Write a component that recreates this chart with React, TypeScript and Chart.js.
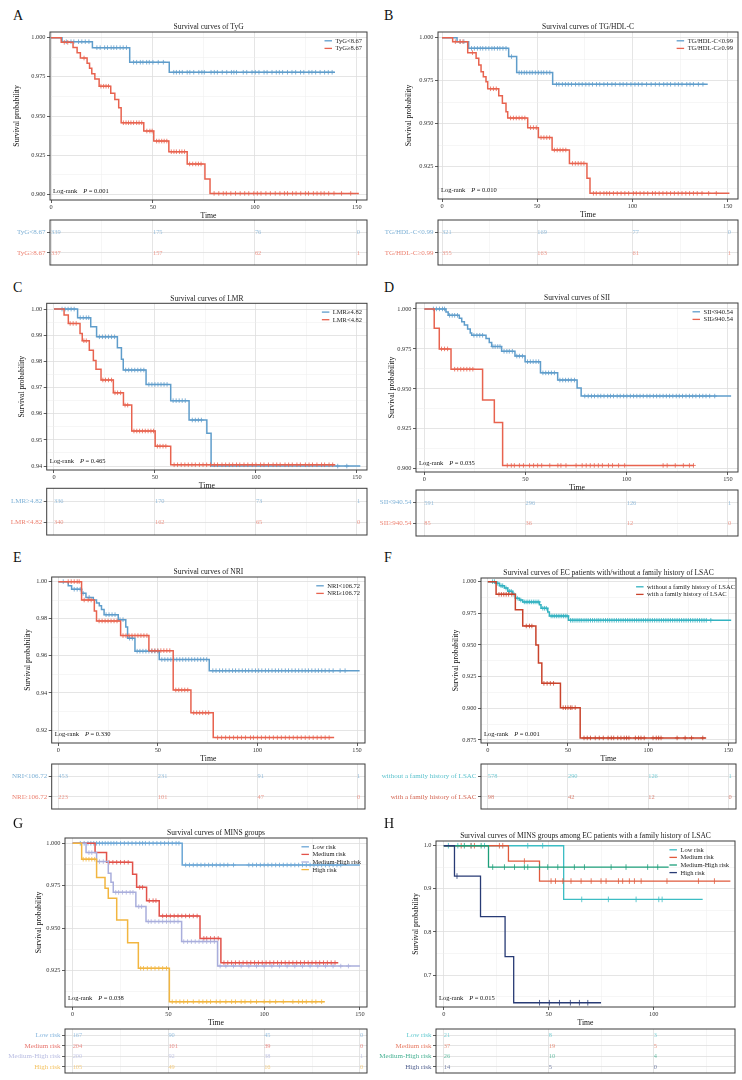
import React, { useEffect, useRef } from "react";
import { Chart, registerables } from "chart.js";
Chart.register(...registerables);

const SERIF = '"Liberation Serif", "Times New Roman", Times, serif';

// ---------------- DATA ----------------
// A: TyG
const tygLowTime = [0, 5.4, 20.3, 38.6, 58.0];
const tygLowSurv = [1, 0.9974, 0.9936, 0.9843, 0.9779];
const tygLowEnd = 139.3;
const tygLowCensor = [7.5, 9.8, 11.2, 13.5, 15.1, 16.8, 18.6, 22.5, 24.1, 26.3, 27.7, 29.5, 30.8, 32.2, 33.9, 35.4, 37.0, 40.5, 42.0, 43.8, 45.1, 46.9, 48.2, 50.0, 52.6, 55.1, 60.2, 61.5, 63.0, 64.4, 66.8, 68.1, 70.0, 72.5, 74.0, 75.2, 78.5, 80.1, 81.6, 84.0, 86.2, 88.5, 89.7, 91.0, 94.3, 96.0, 98.6, 100.2, 102.0, 104.5, 106.0, 108.4, 110.5, 112.0, 113.6, 116.0, 118.2, 120.0, 122.4, 124.0, 126.5, 128.0, 129.8, 132.0, 134.2, 136.0, 137.9];
const tygLowRisk = [339, 175, 76, 0];
const tygHighTime = [0, 5.0, 10.8, 12.8, 14.4, 17.7, 18.9, 20.0, 21.5, 23.6, 29.3, 31.3, 33.2, 34.4, 45.5, 50.4, 57.8, 66.8, 75.5, 78.0];
const tygHighSurv = [1, 0.997, 0.9937, 0.9903, 0.987, 0.9836, 0.9804, 0.977, 0.9736, 0.969, 0.9645, 0.9606, 0.9553, 0.9457, 0.9404, 0.934, 0.9272, 0.9194, 0.9098, 0.9006];
const tygHighEnd = 151;
const tygHighCensor = [6.5, 8.2, 16.2, 24.5, 25.8, 27.0, 28.2, 35.5, 36.8, 38.0, 39.2, 40.5, 42.0, 43.2, 44.5, 47.0, 48.5, 49.6, 51.8, 53.0, 54.3, 55.5, 56.8, 59.0, 60.3, 61.5, 63.0, 64.2, 65.5, 68.0, 69.5, 71.0, 72.3, 73.6, 80.0, 82.3, 84.5, 86.0, 88.2, 90.5, 92.8, 95.0, 97.0, 99.5, 101.2, 103.0, 105.4, 107.6, 110.0, 112.3, 114.5, 116.0, 118.5, 120.2, 122.5, 124.8, 126.3, 128.7, 130.5, 132.4, 134.0, 136.2, 138.8, 142.5, 147.0];
const tygHighRisk = [337, 157, 62, 1];

// B: TG/HDL-C
const tgLowTime = [0, 7.9, 14.0, 35.0, 39.2, 58.1];
const tgLowSurv = [1, 0.9977, 0.9938, 0.989, 0.9797, 0.9729];
const tgLowEnd = 139.5;
const tgLowCensor = [9.5, 11.5, 15.5, 17.0, 18.6, 20.1, 21.4, 23.0, 24.6, 26.2, 27.5, 29.1, 30.4, 32.0, 33.6, 36.5, 40.5, 41.8, 43.2, 44.5, 46.1, 47.4, 49.0, 50.6, 52.1, 53.4, 55.0, 56.6, 60.1, 61.4, 63.2, 64.8, 66.3, 68.0, 70.1, 71.9, 73.6, 75.5, 77.2, 79.0, 81.1, 82.8, 85.0, 86.9, 89.2, 91.0, 93.4, 95.1, 97.0, 99.2, 101.3, 103.1, 105.0, 107.4, 109.8, 112.0, 114.1, 116.4, 118.2, 120.0, 122.3, 124.1, 126.0, 128.5, 130.2, 132.0, 134.6, 137.0];
const tgLowRisk = [321, 169, 77, 0];
const tgHighTime = [0, 5.6, 13.5, 17.9, 19.3, 20.5, 21.7, 23.1, 24.0, 29.8, 31.7, 33.6, 34.5, 45.0, 50.6, 57.8, 66.9, 76.1, 77.7];
const tgHighSurv = [1, 0.9977, 0.9913, 0.988, 0.9841, 0.9802, 0.9773, 0.9744, 0.9703, 0.9663, 0.9618, 0.957, 0.9533, 0.9477, 0.9419, 0.9347, 0.9269, 0.9182, 0.9095];
const tgHighEnd = 150.9;
const tgHighCensor = [7.0, 9.5, 11.0, 16.0, 25.5, 27.0, 28.5, 36.0, 37.5, 39.0, 40.5, 42.0, 43.5, 46.5, 48.0, 49.5, 52.0, 53.5, 55.0, 56.5, 59.0, 60.5, 62.0, 63.5, 65.0, 68.5, 70.0, 71.5, 73.0, 74.5, 79.5, 81.0, 83.0, 85.0, 86.5, 88.0, 90.0, 92.0, 94.0, 96.0, 98.0, 100.5, 102.0, 104.0, 106.0, 108.0, 110.5, 112.0, 114.0, 116.0, 118.0, 120.0, 122.0, 124.0, 126.0, 128.0, 130.0, 132.0, 134.0, 136.5, 140.0, 144.0];
const tgHighRisk = [355, 163, 61, 1];

// C: LMR
const lmrHighTime = [0, 11.7, 18.2, 21.1, 31.4, 33.4, 34.3, 45.6, 57.8, 66.9, 75.7, 77.8];
const lmrHighSurv = [1, 0.9967, 0.9932, 0.9894, 0.9852, 0.9808, 0.9767, 0.9712, 0.965, 0.9576, 0.9525, 0.940];
const lmrHighEnd = 151.7;
const lmrHighCensor = [4.0, 5.5, 7.0, 8.5, 10.0, 13.0, 14.5, 16.0, 17.2, 22.5, 24.0, 25.5, 27.0, 28.5, 30.0, 35.5, 37.0, 38.5, 40.0, 41.5, 43.0, 44.5, 47.0, 48.5, 50.0, 51.5, 53.0, 54.5, 56.0, 59.0, 60.5, 62.0, 63.5, 65.0, 68.5, 70.0, 71.5, 73.0, 140.5, 145.0];
const lmrHighRisk = [336, 170, 73, 1];
const lmrLowTime = [0, 5.0, 7.1, 12.9, 14.0, 17.5, 19.5, 20.8, 23.3, 29.4, 34.4, 38.5, 50.1, 57.8];
const lmrLowSurv = [1, 0.9977, 0.9945, 0.9907, 0.9879, 0.9843, 0.9803, 0.977, 0.9729, 0.968, 0.9633, 0.9534, 0.9476, 0.9405];
const lmrLowEnd = 139.3;
const lmrLowCensor = [8.0, 9.5, 11.0, 14.8, 16.0, 24.2, 25.5, 27.0, 28.5, 30.2, 31.5, 33.0, 35.2, 36.5, 39.6, 41.0, 42.4, 43.8, 45.2, 46.6, 48.0, 49.3, 51.2, 52.5, 54.0, 55.4, 59.5, 61.2, 63.0, 64.8, 66.5, 68.3, 70.0, 72.0, 73.8, 75.6, 77.5, 79.4, 81.0, 83.2, 85.0, 86.8, 88.5, 90.4, 92.0, 94.1, 96.0, 98.2, 100.0, 102.3, 104.0, 106.2, 108.5, 110.3, 112.0, 114.4, 116.2, 118.0, 120.3, 122.0, 124.5, 126.3, 128.0, 130.2, 132.5, 134.0, 136.2, 138.0];
const lmrLowRisk = [340, 162, 65, 0];

// D: SII
const siiLowTime = [0, 10.7, 11.8, 17.3, 18.5, 19.8, 21.4, 22.7, 23.4, 30.5, 32.1, 33.3, 38.2, 44.8, 49.8, 57.4, 65.9, 75.5, 77.5];
const siiLowSurv = [1, 0.998, 0.996, 0.9942, 0.992, 0.99, 0.9875, 0.985, 0.9835, 0.9815, 0.979, 0.9765, 0.9735, 0.9705, 0.967, 0.96, 0.9555, 0.9505, 0.9455];
const siiLowEnd = 151.6;
const siiLowCensor = [4.5, 6.0, 7.5, 9.0, 10.0, 12.5, 13.8, 15.0, 16.4, 24.5, 26.0, 27.4, 28.8, 33.9, 35.0, 36.3, 37.4, 39.4, 40.8, 42.0, 43.5, 45.7, 47.0, 48.5, 51.0, 52.4, 53.8, 55.2, 56.5, 58.6, 60.0, 61.4, 62.8, 64.3, 67.0, 68.4, 69.8, 71.2, 72.6, 74.2, 79.3, 81.0, 82.6, 84.1, 85.8, 87.2, 88.8, 90.6, 92.0, 93.5, 95.3, 96.8, 98.5, 100.1, 101.8, 103.4, 105.0, 106.6, 108.2, 110.0, 111.5, 113.2, 114.8, 116.4, 118.0, 119.6, 121.2, 122.8, 124.5, 126.0, 127.6, 129.3, 131.0, 132.6, 134.2, 136.0, 137.6, 139.2, 141.0, 143.5];
const siiLowRisk = [591, 296, 126, 1];
const siiHighTime = [0, 4.9, 7.4, 13.2, 28.8, 34.6, 38.7];
const siiHighSurv = [1, 0.9879, 0.975, 0.9623, 0.9431, 0.929, 0.9021];
const siiHighEnd = 133.2;
const siiHighCensor = [8.5, 10.0, 11.5, 15.0, 16.5, 18.0, 19.5, 21.0, 22.5, 24.0, 41.0, 43.0, 44.5, 47.0, 49.0, 52.0, 54.0, 56.0, 58.0, 62.0, 66.0, 67.5, 70.0, 75.0, 78.0, 80.0, 82.0, 84.0, 86.0, 88.0, 91.0, 93.0, 96.0, 99.0, 118.0, 120.0, 124.0, 128.0, 131.0, 133.0];
const siiHighRisk = [85, 36, 12, 0];

// E: NRI
const nriLowTime = [0, 5.0, 6.7, 11.7, 13.9, 17.6, 19.2, 20.6, 21.7, 23.0, 30.1, 33.9, 34.8, 38.5, 50.7, 75.8];
const nriLowSurv = [1, 0.9978, 0.9959, 0.9937, 0.9915, 0.9901, 0.9885, 0.987, 0.985, 0.9822, 0.9795, 0.9755, 0.9695, 0.9625, 0.958, 0.952];
const nriLowEnd = 151.3;
const nriLowCensor = [2.5, 8.0, 9.5, 11.0, 12.5, 15.5, 24.0, 25.5, 27.0, 28.5, 31.0, 32.5, 35.8, 37.2, 39.6, 41.0, 42.5, 44.0, 45.5, 47.0, 48.5, 50.0, 52.0, 53.5, 55.0, 56.5, 58.0, 59.5, 61.0, 62.5, 64.0, 65.5, 67.0, 68.5, 70.0, 71.5, 73.0, 74.5, 77.6, 79.2, 81.0, 82.5, 84.1, 85.8, 87.5, 89.0, 90.7, 92.4, 94.0, 95.6, 97.3, 99.0, 100.6, 102.2, 104.0, 105.6, 107.3, 109.0, 110.6, 112.2, 114.0, 115.6, 117.3, 119.0, 120.7, 122.4, 124.0, 125.6, 127.3, 129.0, 130.6, 132.3, 134.0, 136.0, 138.0, 141.5, 144.0];
const nriLowRisk = [453, 231, 91, 1];
const nriHighTime = [0, 11.7, 18.1, 19.2, 31.3, 45.5, 57.7, 66.6, 77.8];
const nriHighSurv = [1, 0.9901, 0.9842, 0.9788, 0.9709, 0.9628, 0.9416, 0.9293, 0.9159];
const nriHighEnd = 138.5;
const nriHighCensor = [5.0, 6.5, 8.0, 9.5, 10.5, 13.0, 15.0, 16.5, 20.5, 22.0, 23.5, 25.0, 26.5, 28.0, 29.5, 32.5, 34.0, 35.5, 37.0, 38.5, 40.0, 41.5, 43.0, 44.5, 47.0, 48.5, 50.0, 51.5, 53.0, 54.5, 56.0, 59.0, 60.5, 62.0, 63.5, 65.0, 68.0, 69.5, 71.0, 72.5, 74.0, 75.5, 80.0, 82.0, 84.0, 86.0, 88.0, 90.0, 92.0, 94.0, 96.5, 98.0, 100.0, 102.0, 104.0, 106.0, 108.0, 110.0, 112.0, 114.0, 116.0, 118.0, 120.0, 122.0, 124.0, 126.0, 128.0, 130.0, 132.0, 134.0, 136.0];
const nriHighRisk = [223, 101, 47, 0];

// F: family history of LSAC
const famNoTime = [0, 5.2, 7.3, 10.4, 12.5, 15.6, 17.2, 19.7, 21.8, 32.2, 33.2, 37.4, 38.4, 50.3];
const famNoSurv = [1, 0.9987, 0.9968, 0.995, 0.9924, 0.990, 0.987, 0.9855, 0.984, 0.9818, 0.979, 0.976, 0.9729, 0.9695];
const famNoEnd = 151.7;
const famNoCensor = [3.0, 4.2, 6.2, 8.3, 9.3, 11.4, 13.5, 14.6, 16.3, 18.4, 20.6, 22.8, 23.9, 25.0, 26.1, 27.2, 28.4, 29.5, 30.7, 31.8, 34.3, 35.4, 36.5, 39.5, 40.6, 41.7, 42.8, 43.9, 45.0, 46.1, 47.2, 48.3, 49.4, 51.6, 52.7, 53.8, 55.0, 56.2, 57.4, 58.6, 60.0, 61.3, 62.6, 64.0, 65.3, 66.6, 68.0, 69.2, 70.5, 72.0, 73.4, 74.7, 76.0, 77.4, 78.8, 80.2, 81.6, 83.0, 84.4, 85.8, 87.2, 88.6, 90.0, 91.4, 92.8, 94.2, 95.6, 97.0, 98.4, 99.8, 101.2, 102.6, 104.0, 105.4, 106.8, 108.2, 109.6, 111.0, 112.4, 113.8, 115.2, 116.6, 118.0, 119.4, 120.8, 122.2, 123.6, 125.0, 126.4, 127.8, 129.2, 130.6, 132.0, 133.4, 134.8, 136.2, 139.0];
const famNoRisk = [578, 290, 126, 1];
const famYesTime = [0, 5.2, 17.2, 21.8, 30.0, 31.6, 33.7, 45.3, 57.6];
const famYesSurv = [1, 0.99, 0.9779, 0.965, 0.950, 0.9357, 0.9197, 0.9005, 0.8766];
const famYesEnd = 136.1;
const famYesCensor = [7.0, 8.5, 10.0, 11.5, 13.0, 15.0, 24.0, 26.0, 27.5, 35.0, 37.0, 39.0, 41.0, 47.0, 48.5, 50.0, 51.5, 52.5, 54.5, 60.0, 62.0, 64.0, 67.0, 69.5, 72.0, 75.0, 77.0, 78.5, 81.0, 83.0, 85.0, 86.5, 88.0, 92.0, 94.0, 95.5, 97.5, 103.0, 105.0, 106.5, 108.0, 118.0, 123.0, 127.0, 134.0];
const famYesRisk = [98, 42, 12, 0];

// G: MINS groups
const gLowTime = [0, 57.2];
const gLowSurv = [1, 0.9872];
const gLowEnd = 150;
const gLowCensor = [4.0, 6.0, 8.0, 9.5, 11.0, 12.5, 14.0, 15.5, 17.0, 18.5, 20.0, 21.5, 23.0, 25.0, 27.0, 29.0, 31.0, 33.0, 35.0, 36.5, 38.0, 40.0, 42.0, 44.0, 46.0, 48.0, 50.0, 52.0, 54.0, 55.5, 59.0, 61.0, 63.0, 65.0, 67.0, 69.0, 71.0, 73.0, 75.0, 77.0, 79.0, 81.0, 84.0, 92.0, 94.0, 96.0, 98.0, 100.0, 102.0, 104.0, 106.0, 108.0, 110.0, 112.0, 114.0, 116.0, 118.0, 120.0, 122.0, 124.0, 126.0, 128.0, 130.0, 132.0, 134.0, 136.0, 138.0, 140.0];
const gLowRisk = [167, 90, 45, 0];
const gMedTime = [0, 11.7, 17.7, 31.3, 33.4, 38.6, 45.2, 66.5, 77.4];
const gMedSurv = [1, 0.9945, 0.9888, 0.9817, 0.9741, 0.9662, 0.9572, 0.944, 0.9297];
const gMedEnd = 138.7;
const gMedCensor = [19.0, 21.0, 23.0, 25.0, 27.0, 29.0, 35.0, 36.5, 40.0, 42.0, 43.5, 47.0, 49.0, 51.0, 53.0, 55.0, 57.0, 59.0, 61.0, 63.0, 65.0, 68.5, 70.0, 72.0, 74.0, 76.0, 79.0, 81.0, 83.0, 85.0, 87.0, 89.0, 91.0, 93.0, 95.0, 97.0, 99.0, 101.0, 103.0, 105.0, 107.0, 109.0, 111.0, 113.0, 115.0, 117.0, 119.0, 121.0, 123.0, 125.0, 127.0, 129.0, 131.0, 133.0, 135.0, 137.0];
const gMedRisk = [204, 101, 39, 0];
const gMhTime = [0, 7.0, 12.5, 18.6, 20.0, 21.2, 33.0, 38.3, 56.9, 75.7];
const gMhSurv = [1, 0.9945, 0.9892, 0.9823, 0.977, 0.9711, 0.9627, 0.9539, 0.9421, 0.9277];
const gMhEnd = 150;
const gMhCensor = [8.5, 10.0, 14.0, 16.0, 22.5, 24.0, 26.0, 28.0, 30.0, 31.5, 34.5, 36.0, 39.5, 41.0, 43.0, 45.0, 47.0, 49.0, 51.0, 53.0, 55.0, 58.0, 60.0, 62.0, 64.0, 66.0, 68.0, 70.0, 72.0, 74.0, 77.0, 80.0, 84.0, 88.0, 92.0, 96.0, 100.0, 104.0, 108.0, 112.0, 116.0, 120.0, 124.0, 128.0, 132.0, 136.0, 140.0, 144.0];
const gMhRisk = [200, 92, 38, 1];
const gHighTime = [0, 4.7, 12.5, 16.9, 18.6, 23.0, 28.7, 34.3, 50.5];
const gHighSurv = [1, 0.9906, 0.9798, 0.9735, 0.9676, 0.9548, 0.9415, 0.9264, 0.9067];
const gHighEnd = 131.7;
const gHighCensor = [5.5, 7.0, 8.5, 10.0, 11.5, 35.5, 37.0, 39.0, 41.0, 43.0, 45.0, 47.0, 49.0, 52.0, 54.0, 56.0, 58.0, 60.0, 63.0, 66.0, 68.0, 70.0, 72.0, 75.0, 77.0, 80.0, 83.0, 85.0, 88.0, 90.0, 93.0, 96.0, 100.0, 103.0, 106.0, 110.0, 115.0, 118.0, 120.0, 122.0, 125.0, 127.0, 130.0];
const gHighRisk = [105, 49, 16, 0];

// H: MINS groups among family history
const hLowTime = [0, 57.1];
const hLowSurv = [1, 0.8755];
const hLowEnd = 123.3;
const hLowCensor = [2.2, 6.7, 13.0, 19.4, 40.0, 47.1, 65.7, 78.4, 91.6, 102.4, 104.0];
const hLowRisk = [21, 8, 3];
const hMedTime = [0, 30.8, 45.6];
const hMedSurv = [1, 0.9644, 0.918];
const hMedEnd = 136.5;
const hMedCensor = [8.3, 13.0, 14.6, 26.5, 28.1, 38.4, 51.1, 53.2, 56.7, 60.6, 65.4, 70.2, 74.9, 77.3, 83.2, 85.2, 88.4, 90.8, 94.0, 106.3, 121.3, 128.9];
const hMedRisk = [37, 19, 5];
const hMhTime = [0, 21.3];
const hMhSurv = [1, 0.9505];
const hMhEnd = 107.1;
const hMhCensor = [9.8, 17.8, 23.3, 28.9, 33.7, 38.4, 40.0, 45.6, 49.5, 54.3, 62.2, 67.0, 79.7, 86.8, 97.1, 101.9];
const hMhRisk = [26, 10, 4];
const hHighTime = [0, 5.1, 17.5, 29.2, 33.3];
const hHighSurv = [1, 0.9296, 0.8353, 0.7425, 0.6357];
const hHighEnd = 74.9;
const hHighCensor = [6.3, 45.6, 50.3, 55.1, 60.3, 64.6, 68.6];
const hHighRisk = [14, 5, 0];

// Axis ticks
const xTicks150 = [0, 25, 50, 75, 100, 125, 150];
const xMajor150 = [0, 50, 100, 150];
const xTicksH = [0, 25, 50, 75, 100, 125];
const xMajorH = [0, 50, 100];
const riskTimes4 = [0, 50, 100, 150];
const riskTimes3 = [0, 50, 100];

// colors
const BLUE = "#5f9dcb";
const RED = "#e8634f";

type Series = { name: string; color: string; time: number[]; surv: number[]; end: number; censor: number[]; risk: number[] };
type Panel = {
  letter: string; px: number; capTop: number; title: string;
  plot: { l: number; t: number; r: number; b: number };
  table: { t: number; b: number };
  xMin: number; xMax: number; xTicks: number[]; xMajor: number[];
  yMin: number; yMax: number; yTicks: number[]; yMajor: number[]; yDigits: number;
  yTitleX: number; pval: string; riskTimes: number[]; legendRight: number;
  censorStyle: string; lineWidth: number; series: Series[];
};

const panels: Panel[] = [
  {
    letter: "A", px: 0, capTop: 11.5, title: "Survival curves of TyG",
    plot: { l: 50, t: 32, r: 367, b: 200 }, table: { t: 220, b: 265 },
    xMin: -0.5, xMax: 155, xTicks: xTicks150, xMajor: xMajor150,
    yMin: 0.8964, yMax: 1.0036, yTicks: [0.9, 0.9125, 0.925, 0.9375, 0.95, 0.9625, 0.975, 0.9875, 1.0], yMajor: [0.9, 0.925, 0.95, 0.975, 1.0], yDigits: 3,
    yTitleX: 17, pval: "0.001", riskTimes: riskTimes4, legendRight: 5, censorStyle: "cross", lineWidth: 1.5,
    series: [
      { name: "TyG<8.67", color: BLUE, time: tygLowTime, surv: tygLowSurv, end: tygLowEnd, censor: tygLowCensor, risk: tygLowRisk },
      { name: "TyG≥8.67", color: RED, time: tygHighTime, surv: tygHighSurv, end: tygHighEnd, censor: tygHighCensor, risk: tygHighRisk },
    ],
  },
  {
    letter: "B", px: 371, capTop: 11.5, title: "Survival curves of TG/HDL-C",
    plot: { l: 438, t: 32, r: 738, b: 199 }, table: { t: 220, b: 265 },
    xMin: -2.1, xMax: 155.4, xTicks: xTicks150, xMajor: xMajor150,
    yMin: 0.9062, yMax: 1.0033, yTicks: [0.9125, 0.925, 0.9375, 0.95, 0.9625, 0.975, 0.9875, 1.0], yMajor: [0.925, 0.95, 0.975, 1.0], yDigits: 3,
    yTitleX: 409, pval: "0.010", riskTimes: riskTimes4, legendRight: 5, censorStyle: "cross", lineWidth: 1.5,
    series: [
      { name: "TG/HDL-C<0.99", color: BLUE, time: tgLowTime, surv: tgLowSurv, end: tgLowEnd, censor: tgLowCensor, risk: tgLowRisk },
      { name: "TG/HDL-C≥0.99", color: RED, time: tgHighTime, surv: tgHighSurv, end: tgHighEnd, censor: tgHighCensor, risk: tgHighRisk },
    ],
  },
  {
    letter: "C", px: 0, capTop: 283.3, title: "Survival curves of LMR",
    plot: { l: 46.7, t: 303.3, r: 367, b: 470 }, table: { t: 488.3, b: 535 },
    xMin: -3.6, xMax: 155, xTicks: xTicks150, xMajor: xMajor150,
    yMin: 0.9385, yMax: 1.0022, yTicks: [0.94, 0.945, 0.95, 0.955, 0.96, 0.965, 0.97, 0.975, 0.98, 0.985, 0.99, 0.995, 1.0], yMajor: [0.94, 0.95, 0.96, 0.97, 0.98, 0.99, 1.0], yDigits: 2,
    yTitleX: 21.7, pval: "0.465", riskTimes: riskTimes4, legendRight: 5, censorStyle: "cross", lineWidth: 1.5,
    series: [
      { name: "LMR≥4.82", color: BLUE, time: lmrHighTime, surv: lmrHighSurv, end: lmrHighEnd, censor: lmrHighCensor, risk: lmrHighRisk },
      { name: "LMR<4.82", color: RED, time: lmrLowTime, surv: lmrLowSurv, end: lmrLowEnd, censor: lmrLowCensor, risk: lmrLowRisk },
    ],
  },
  {
    letter: "D", px: 371, capTop: 283.3, title: "Survival curves of SII",
    plot: { l: 416, t: 303, r: 738, b: 472 }, table: { t: 490, b: 536 },
    xMin: -4.1, xMax: 155, xTicks: xTicks150, xMajor: xMajor150,
    yMin: 0.898, yMax: 1.0037, yTicks: [0.9, 0.9125, 0.925, 0.9375, 0.95, 0.9625, 0.975, 0.9875, 1.0], yMajor: [0.9, 0.925, 0.95, 0.975, 1.0], yDigits: 3,
    yTitleX: 391.7, pval: "0.035", riskTimes: riskTimes4, legendRight: 5, censorStyle: "cross", lineWidth: 1.5,
    series: [
      { name: "SII<940.54", color: BLUE, time: siiLowTime, surv: siiLowSurv, end: siiLowEnd, censor: siiLowCensor, risk: siiLowRisk },
      { name: "SII≥940.54", color: RED, time: siiHighTime, surv: siiHighSurv, end: siiHighEnd, censor: siiHighCensor, risk: siiHighRisk },
    ],
  },
  {
    letter: "E", px: 0, capTop: 553.3, title: "Survival curves of NRI",
    plot: { l: 51.7, t: 577, r: 365, b: 743 }, table: { t: 764, b: 809 },
    xMin: -3.3, xMax: 154, xTicks: xTicks150, xMajor: xMajor150,
    yMin: 0.913, yMax: 1.0025, yTicks: [0.92, 0.93, 0.94, 0.95, 0.96, 0.97, 0.98, 0.99, 1.0], yMajor: [0.92, 0.94, 0.96, 0.98, 1.0], yDigits: 2,
    yTitleX: 28.3, pval: "0.330", riskTimes: riskTimes4, legendRight: 5, censorStyle: "cross", lineWidth: 1.5,
    series: [
      { name: "NRI<106.72", color: BLUE, time: nriLowTime, surv: nriLowSurv, end: nriLowEnd, censor: nriLowCensor, risk: nriLowRisk },
      { name: "NRI≥106.72", color: RED, time: nriHighTime, surv: nriHighSurv, end: nriHighEnd, censor: nriHighCensor, risk: nriHighRisk },
    ],
  },
  {
    letter: "F", px: 371, capTop: 553.3, title: "Survival curves of EC patients with/without a family history of LSAC",
    plot: { l: 481, t: 578, r: 736, b: 743 }, table: { t: 764, b: 809 },
    xMin: -4.2, xMax: 154.7, xTicks: xTicks150, xMajor: xMajor150,
    yMin: 0.8726, yMax: 1.0029, yTicks: [0.875, 0.8875, 0.9, 0.9125, 0.925, 0.9375, 0.95, 0.9625, 0.975, 0.9875, 1.0], yMajor: [0.875, 0.9, 0.925, 0.95, 0.975, 1.0], yDigits: 3,
    yTitleX: 456, pval: "0.001", riskTimes: riskTimes4, legendRight: 1, censorStyle: "cross", lineWidth: 1.5,
    series: [
      { name: "without a family history of LSAC", color: "#33b3c1", time: famNoTime, surv: famNoSurv, end: famNoEnd, censor: famNoCensor, risk: famNoRisk },
      { name: "with a family history of LSAC", color: "#c9432c", time: famYesTime, surv: famYesSurv, end: famYesEnd, censor: famYesCensor, risk: famYesRisk },
    ],
  },
  {
    letter: "G", px: 0, capTop: 819.5, title: "Survival curves of MINS groups",
    plot: { l: 65, t: 838, r: 367, b: 1007 }, table: { t: 1029, b: 1073 },
    xMin: -4, xMax: 153.7, xTicks: xTicks150, xMajor: xMajor150,
    yMin: 0.9036, yMax: 1.0031, yTicks: [0.9125, 0.925, 0.9375, 0.95, 0.9625, 0.975, 0.9875, 1.0], yMajor: [0.925, 0.95, 0.975, 1.0], yDigits: 3,
    yTitleX: 39, pval: "0.038", riskTimes: riskTimes4, legendRight: 6, censorStyle: "cross", lineWidth: 1.5,
    series: [
      { name: "Low risk", color: "#6ba6d6", time: gLowTime, surv: gLowSurv, end: gLowEnd, censor: gLowCensor, risk: gLowRisk },
      { name: "Medium risk", color: "#e2524a", time: gMedTime, surv: gMedSurv, end: gMedEnd, censor: gMedCensor, risk: gMedRisk },
      { name: "Medium-High risk", color: "#a9aedc", time: gMhTime, surv: gMhSurv, end: gMhEnd, censor: gMhCensor, risk: gMhRisk },
      { name: "High risk", color: "#f2b640", time: gHighTime, surv: gHighSurv, end: gHighEnd, censor: gHighCensor, risk: gHighRisk },
    ],
  },
  {
    letter: "H", px: 371, capTop: 819.5, title: "Survival curves of MINS groups among EC patients with a family history of LSAC",
    plot: { l: 436, t: 841, r: 735, b: 1007 }, table: { t: 1029, b: 1073 },
    xMin: -3.7, xMax: 138.7, xTicks: xTicksH, xMajor: xMajorH,
    yMin: 0.6258, yMax: 1.011, yTicks: [0.65, 0.7, 0.75, 0.8, 0.85, 0.9, 0.95, 1.0], yMajor: [0.7, 0.8, 0.9, 1.0], yDigits: 1,
    yTitleX: 416, pval: "0.015", riskTimes: riskTimes3, legendRight: 6, censorStyle: "line", lineWidth: 1.3,
    series: [
      { name: "Low risk", color: "#3cbdc4", time: hLowTime, surv: hLowSurv, end: hLowEnd, censor: hLowCensor, risk: hLowRisk },
      { name: "Medium risk", color: "#e05a3c", time: hMedTime, surv: hMedSurv, end: hMedEnd, censor: hMedCensor, risk: hMedRisk },
      { name: "Medium-High risk", color: "#1d9f7a", time: hMhTime, surv: hMhSurv, end: hMhEnd, censor: hMhCensor, risk: hMhRisk },
      { name: "High risk", color: "#283b75", time: hHighTime, surv: hHighSurv, end: hHighEnd, censor: hHighCensor, risk: hHighRisk },
    ],
  },
];

// ---------------- helpers ----------------
function survAt(time: number[], surv: number[], t: number) {
  let s = surv[0];
  for (let i = 0; i < time.length; i++) if (time[i] <= t) s = surv[i];
  return s;
}
const isIn = (arr: number[], v: number) => arr.some((a) => Math.abs(a - v) < 1e-6);

const GRID_MAJOR = "#dedede";
const GRID_MINOR = "#ececec";

function KMChart({ p }: { p: Panel }) {
  const ref = useRef<HTMLCanvasElement | null>(null);
  const cl = Math.floor(p.yTitleX - 4.6);
  const ct = Math.floor(p.plot.t - 14);
  const cr = Math.ceil(p.plot.r + 5);
  const cb = Math.ceil(p.plot.b + 21);
  const padL = p.plot.l - cl;
  const padT = p.plot.t - ct;
  const padR = cr - p.plot.r;
  const padB = cb - p.plot.b;
  const W = cr - cl;
  const H = cb - ct;

  useEffect(() => {
    if (!ref.current) return;
    const n = p.series.length;
    const datasets: any[] = [];
    p.series.forEach((s, i) => {
      const pts = s.time.map((t, k) => ({ x: t, y: s.surv[k] }));
      pts.push({ x: s.end, y: s.surv[s.surv.length - 1] });
      datasets.push({
        type: "line", label: s.name, data: pts, stepped: true, borderColor: s.color,
        borderWidth: p.lineWidth, pointRadius: 0, fill: false, order: (n - i) * 2,
      });
      datasets.push({
        type: "scatter", label: s.name + " censor",
        data: s.censor.map((t) => ({ x: t, y: survAt(s.time, s.surv, t) })),
        pointStyle: p.censorStyle, rotation: p.censorStyle === "line" ? 90 : 0,
        pointRadius: p.censorStyle === "line" ? 2.8 : 2.3, borderColor: s.color, backgroundColor: s.color,
        borderWidth: 0.8, order: (n - i) * 2 - 1,
      });
    });

    const legendPlugin = {
      id: "kmDecor",
      afterDatasetsDraw(chart: any) {
        const { ctx, chartArea: a } = chart;
        ctx.save();
        ctx.strokeStyle = "#3c3c3c";
        ctx.lineWidth = 1;
        ctx.strokeRect(a.left, a.top, a.right - a.left, a.bottom - a.top);
        ctx.fillStyle = "#1a1a1a";
        ctx.font = `7.5px ${SERIF}`;
        ctx.textAlign = "center";
        ctx.textBaseline = "middle";
        ctx.fillText(p.title, (a.left + a.right) / 2, a.top - 4.5);
        ctx.font = `6.5px ${SERIF}`;
        ctx.textAlign = "left";
        let maxW = 0;
        p.series.forEach((s) => { maxW = Math.max(maxW, ctx.measureText(s.name).width); });
        const x0 = a.right - p.legendRight - maxW - 11;
        p.series.forEach((s, i) => {
          const y = a.top + 8.8 + i * 7.6;
          ctx.strokeStyle = s.color;
          ctx.lineWidth = 1.3;
          ctx.beginPath();
          ctx.moveTo(x0, y);
          ctx.lineTo(x0 + 7.5, y);
          ctx.stroke();
          ctx.fillStyle = "#222";
          ctx.fillText(s.name, x0 + 11, y + 0.3);
        });
        const ly = a.bottom - 9;
        let lx = a.left + 3;
        ctx.fillStyle = "#111";
        ctx.font = `6.5px ${SERIF}`;
        ctx.fillText("Log-rank", lx, ly);
        lx += ctx.measureText("Log-rank").width + 6;
        ctx.font = `italic 6.5px ${SERIF}`;
        ctx.fillText("P", lx, ly);
        lx += ctx.measureText("P").width;
        ctx.font = `6.5px ${SERIF}`;
        ctx.fillText(" = " + p.pval, lx, ly);
        ctx.restore();
      },
    };

    const chart = new Chart(ref.current, {
      type: "line",
      data: { datasets },
      plugins: [legendPlugin],
      options: {
        responsive: false,
        animation: false,
        events: [],
        layout: { padding: { top: padT, right: padR, left: 0, bottom: 0 } },
        plugins: { legend: { display: false }, title: { display: false }, tooltip: { enabled: false } },
        scales: {
          x: {
            type: "linear", min: p.xMin, max: p.xMax,
            afterBuildTicks: (sc: any) => { sc.ticks = p.xTicks.map((v) => ({ value: v })); },
            afterFit: (sc: any) => { sc.height = padB; sc.paddingLeft = 0; sc.paddingRight = 0; },
            border: { display: false },
            grid: {
              color: (c: any) => (isIn(p.xMajor, c.tick?.value) ? GRID_MAJOR : GRID_MINOR),
              lineWidth: (c: any) => (isIn(p.xMajor, c.tick?.value) ? 0.8 : 0.5),
              tickColor: (c: any) => (isIn(p.xMajor, c.tick?.value) ? "#333" : "rgba(0,0,0,0)"),
              tickLength: 3, drawTicks: true,
            },
            ticks: {
              autoSkip: false, maxRotation: 0, padding: 1, color: "#333",
              font: { family: SERIF, size: 6.3 },
              callback: (v: any) => (isIn(p.xMajor, Number(v)) ? String(v) : ""),
            },
            title: { display: true, text: "Time", color: "#111", font: { family: SERIF, size: 7.7 }, padding: { top: 0, bottom: 0 } },
          },
          y: {
            type: "linear", min: p.yMin, max: p.yMax,
            afterBuildTicks: (sc: any) => { sc.ticks = p.yTicks.map((v) => ({ value: v })); },
            afterFit: (sc: any) => { sc.width = padL; sc.paddingTop = 0; sc.paddingBottom = 0; },
            border: { display: false },
            grid: {
              color: (c: any) => (isIn(p.yMajor, c.tick?.value) ? GRID_MAJOR : GRID_MINOR),
              lineWidth: (c: any) => (isIn(p.yMajor, c.tick?.value) ? 0.8 : 0.5),
              tickColor: (c: any) => (isIn(p.yMajor, c.tick?.value) ? "#333" : "rgba(0,0,0,0)"),
              tickLength: 3, drawTicks: true,
            },
            ticks: {
              autoSkip: false, padding: 1.5, color: "#333",
              font: { family: SERIF, size: 6.3 },
              callback: (v: any) => (isIn(p.yMajor, Number(v)) ? Number(v).toFixed(p.yDigits) : ""),
            },
            title: { display: true, text: "Survival probability", color: "#111", font: { family: SERIF, size: 7.7 }, padding: { top: 0, bottom: 0 } },
          },
        },
      } as any,
    });
    return () => chart.destroy();
  }, [p]);

  return (
    <canvas ref={ref} width={W} height={H}
      style={{ position: "absolute", left: cl, top: ct, width: W, height: H }} />
  );
}

function RiskTable({ p }: { p: Panel }) {
  const ref = useRef<HTMLCanvasElement | null>(null);
  const cl = p.px + 1;
  const ct = Math.floor(p.table.t - 1);
  const cr = Math.ceil(p.plot.r + 5);
  const cb = Math.ceil(p.table.b + 1);
  const padL = p.plot.l - cl;
  const padT = p.table.t - ct;
  const padR = cr - p.plot.r;
  const padB = cb - p.table.b;
  const W = cr - cl;
  const H = cb - ct;
  const n = p.series.length;

  useEffect(() => {
    if (!ref.current) return;
    const rows = p.series.map((_, i) => i);
    const numPlugin = {
      id: "riskNums",
      afterDatasetsDraw(chart: any) {
        const { ctx, chartArea: a, scales } = chart;
        ctx.save();
        ctx.font = `6.4px ${SERIF}`;
        ctx.textBaseline = "middle";
        ctx.textAlign = "left";
        p.series.forEach((s, i) => {
          const y = scales.y.getPixelForValue(i);
          ctx.fillStyle = s.color;
          ctx.globalAlpha = 0.65;
          p.riskTimes.forEach((t, k) => {
            const x = scales.x.getPixelForValue(t);
            const txt = String(s.risk[k]);
            const w = ctx.measureText(txt).width;
            const xx = Math.min(x, a.right - w - 1.5);
            ctx.fillText(txt, xx, y + 0.3);
          });
        });
        ctx.globalAlpha = 1;
        ctx.strokeStyle = "#3c3c3c";
        ctx.lineWidth = 1;
        ctx.strokeRect(a.left, a.top, a.right - a.left, a.bottom - a.top);
        ctx.restore();
      },
    };
    const chart = new Chart(ref.current, {
      type: "scatter",
      data: { datasets: [{ data: [], pointRadius: 0 }] },
      plugins: [numPlugin],
      options: {
        responsive: false,
        animation: false,
        events: [],
        layout: { padding: { top: padT, right: padR, left: 0, bottom: 0 } },
        plugins: { legend: { display: false }, title: { display: false }, tooltip: { enabled: false } },
        scales: {
          x: {
            type: "linear", min: p.xMin, max: p.xMax,
            afterBuildTicks: (sc: any) => { sc.ticks = p.xTicks.map((v) => ({ value: v })); },
            afterFit: (sc: any) => { sc.height = padB; sc.paddingLeft = 0; sc.paddingRight = 0; },
            border: { display: false },
            grid: {
              color: (c: any) => (isIn(p.xMajor, c.tick?.value) ? GRID_MAJOR : GRID_MINOR),
              lineWidth: (c: any) => (isIn(p.xMajor, c.tick?.value) ? 0.8 : 0.5),
              drawTicks: false,
            },
            ticks: { display: false },
          },
          y: {
            type: "linear", min: -0.6, max: n - 0.4, reverse: true,
            afterBuildTicks: (sc: any) => { sc.ticks = rows.map((v) => ({ value: v })); },
            afterFit: (sc: any) => { sc.width = padL; sc.paddingTop = 0; sc.paddingBottom = 0; },
            border: { display: false },
            grid: { color: GRID_MAJOR, lineWidth: 0.8, tickColor: "#333", tickLength: 3, drawTicks: true },
            ticks: {
              autoSkip: false, padding: 1.5,
              font: { family: SERIF, size: 7 },
              color: (c: any) => {
                const s = p.series[Math.round(c.tick?.value ?? 0)];
                return s ? s.color + "d0" : "#333";
              },
              callback: (v: any) => p.series[Math.round(Number(v))]?.name ?? "",
            },
          },
        },
      } as any,
    });
    return () => chart.destroy();
  }, [p]);

  return (
    <canvas ref={ref} width={W} height={H}
      style={{ position: "absolute", left: cl, top: ct, width: W, height: H }} />
  );
}

function PanelView({ p }: { p: Panel }) {
  return (
    <>
      <div style={{
        position: "absolute", left: p.px + 13, top: p.capTop - 2.5, fontFamily: SERIF,
        fontSize: 14, lineHeight: "14px", color: "#111",
      }}>{p.letter}</div>
      <KMChart p={p} />
      <RiskTable p={p} />
    </>
  );
}

export default function App() {
  return (
    <div style={{ position: "absolute", left: 0, top: 0, width: 742, height: 1080, background: "#fff", overflow: "hidden" }}>
      {panels.map((p) => <PanelView key={p.letter} p={p} />)}
    </div>
  );
}
